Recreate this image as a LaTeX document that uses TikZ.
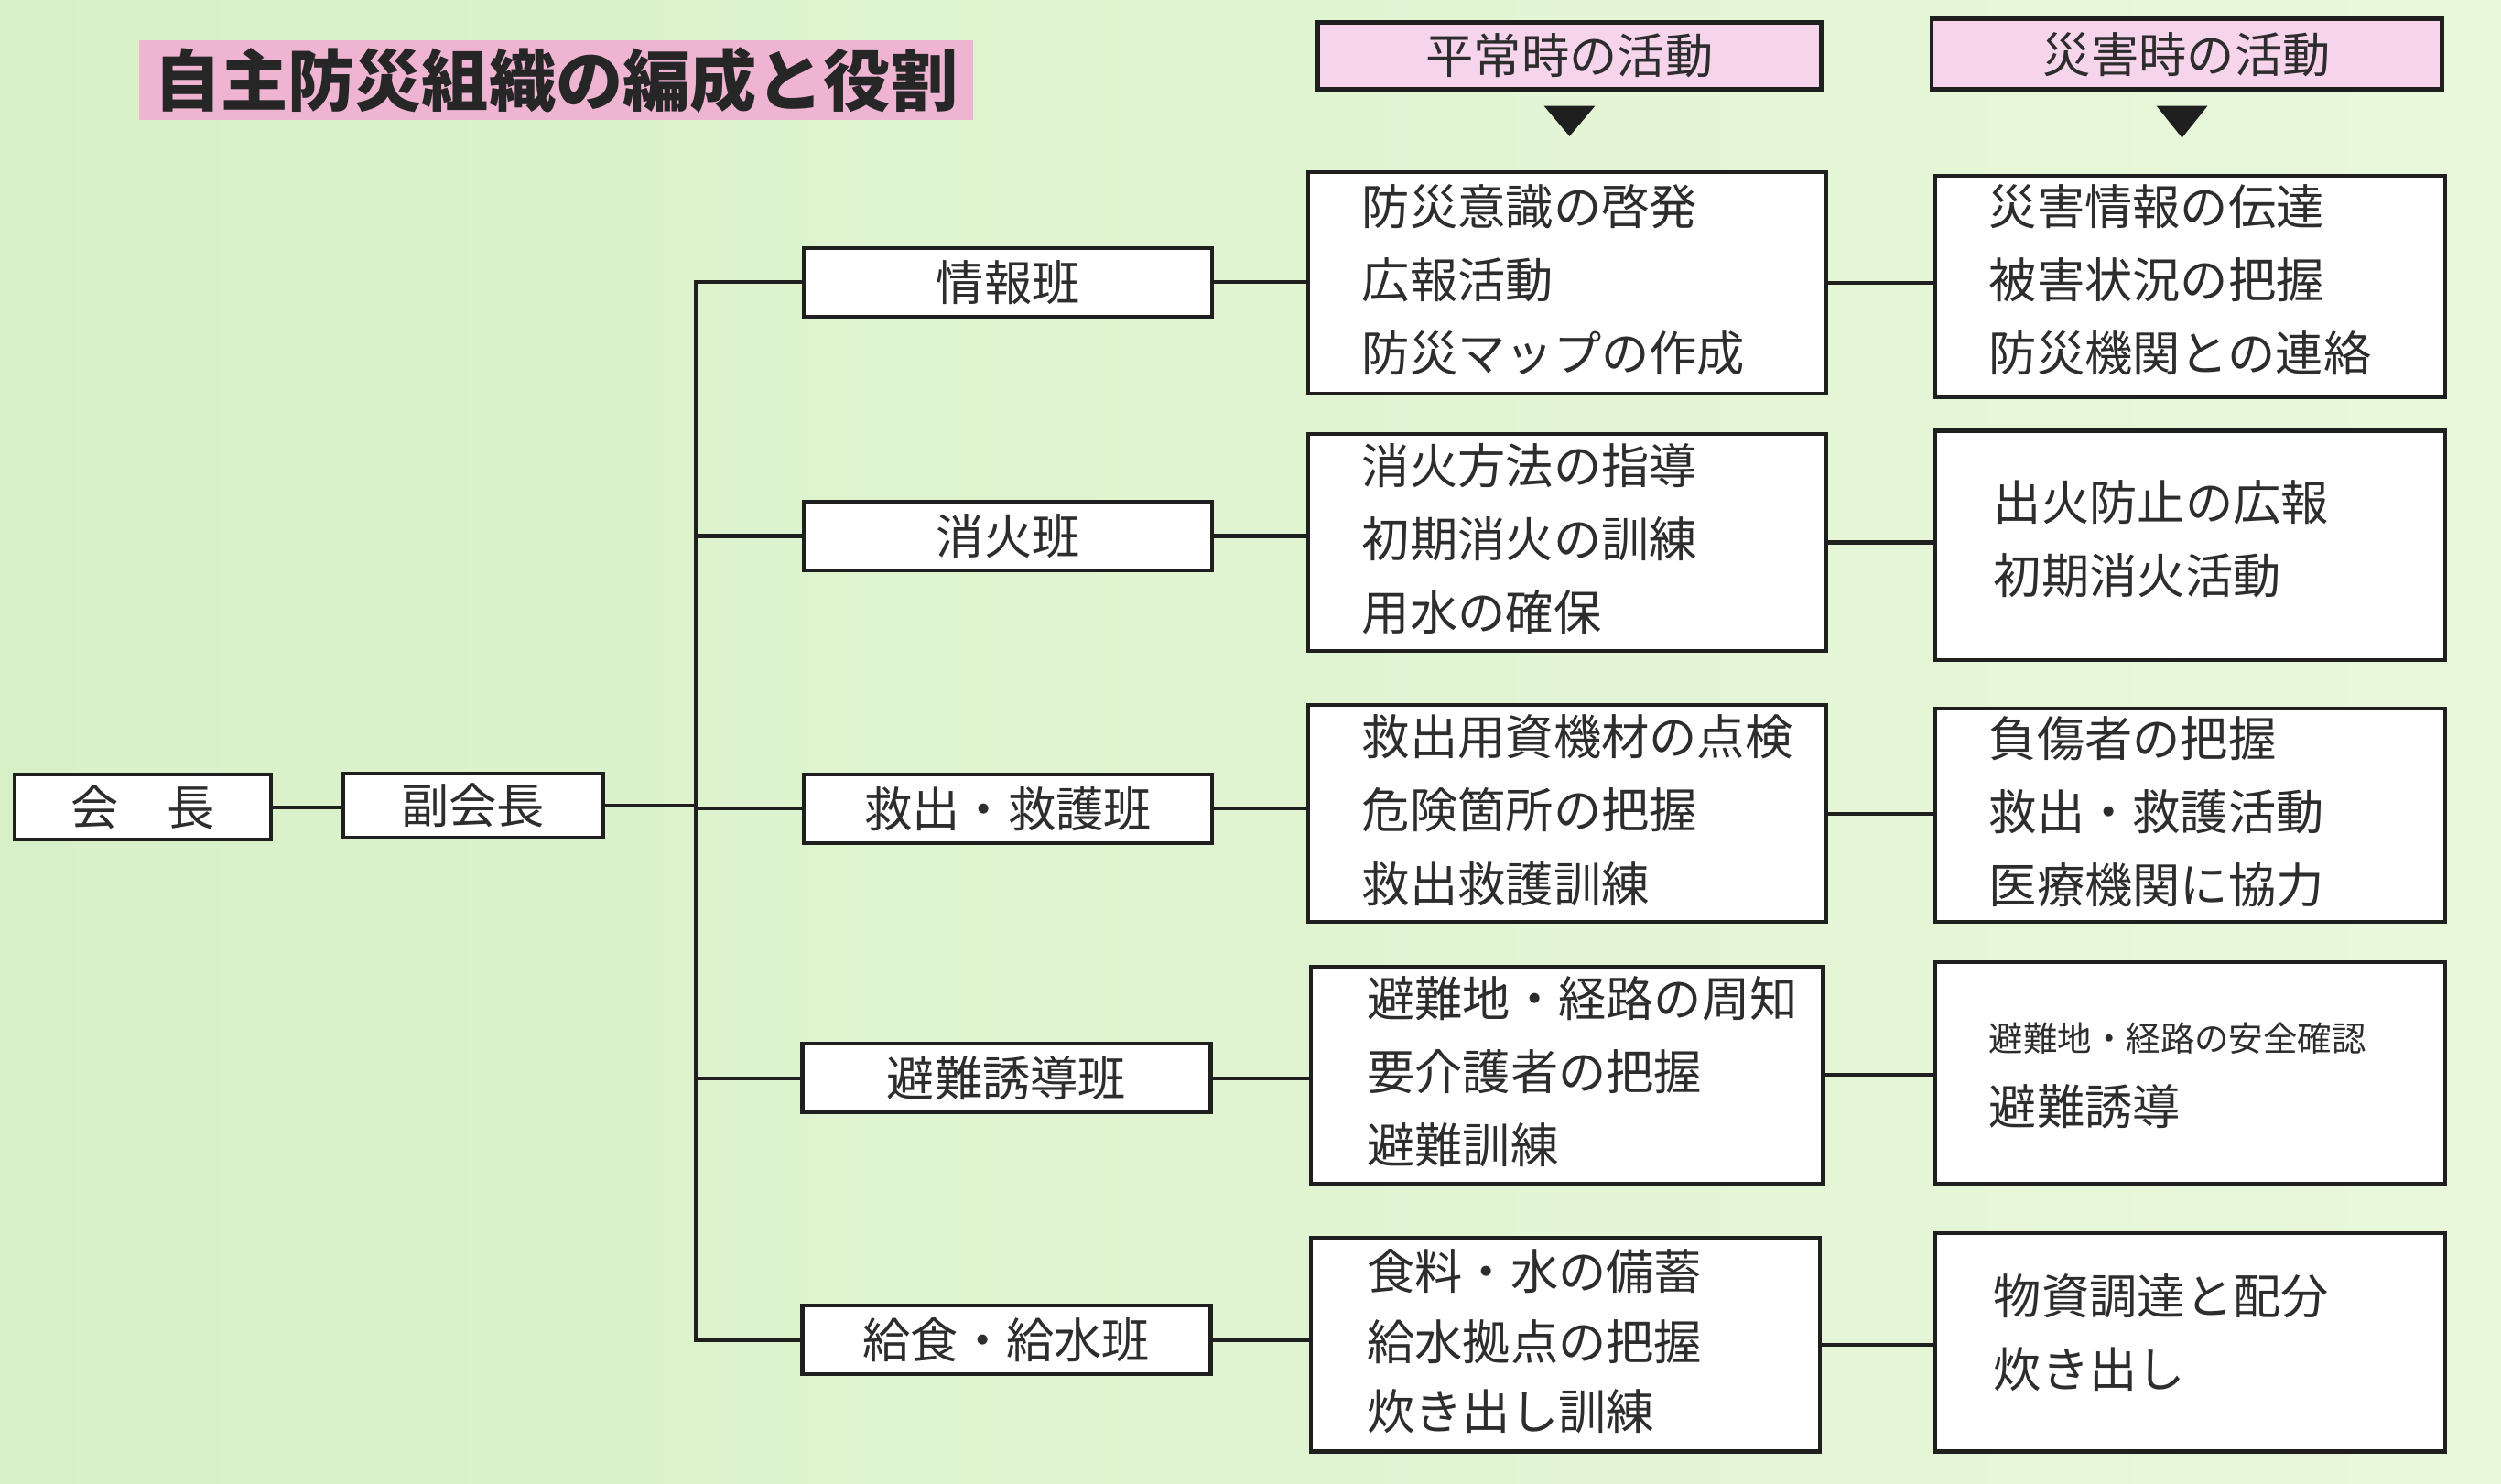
\documentclass[tikz,border=0pt]{standalone}
\usepackage{fontspec}
\setmainfont{Noto Sans CJK JP}
\usetikzlibrary{calc}
\definecolor{bgleft}{RGB}{216,240,200}
\definecolor{bgright}{RGB}{233,248,219}
\definecolor{titlepink}{RGB}{238,180,210}
\definecolor{hdrpink}{RGB}{246,212,236}
\definecolor{ink}{RGB}{45,45,45}
\begin{document}
\begin{tikzpicture}[x=1pt,y=-1pt,
  every node/.style={font=\fontsize{30}{46}\selectfont, text=ink},
  box/.style={draw=black!88, line width=2.4pt, fill=white, inner sep=0pt},
  hdr/.style={draw=black!88, line width=2.8pt, fill=hdrpink, inner sep=0pt},
  ban/.style={box, minimum width=256pt, minimum height=43pt},
  midbox/.style={box, minimum width=325pt},
  rbox/.style={box, minimum width=320pt},
  list/.style={anchor=west, align=left, inner sep=0pt},
  conn/.style={draw=black!88, line width=2.4pt},
  tri/.style={fill=black!88}]
\useasboundingbox (0,0) rectangle (1568,930);
\shade[left color=bgleft, right color=bgright] (0,0) rectangle (1568,930);

% title
\node[fill=titlepink, minimum width=523pt, minimum height=50pt, inner sep=0pt,
      font=\bfseries\fontsize{42}{50}\selectfont, text=black!85] (title) at (348.5,50) {自主防災組織の編成と役割};

% headers
\node[hdr, minimum width=316pt, minimum height=42pt] (h1) at (984,35) {平常時の活動};
\node[hdr, minimum width=320pt, minimum height=44pt] (h2) at (1371,34) {災害時の活動};
\fill[tri] ($(h1.south)+(-16,9)$) -- ++(32,0) -- ++(-16,19) -- cycle;
\fill[tri] ($(h2.south)+(-19,9)$) -- ++(32,0) -- ++(-16,20) -- cycle;

% leaders
\node[box, minimum width=161pt, minimum height=41pt] (kaicho) at (89.5,506) {会　長};
\node[box, minimum width=163pt, minimum height=40pt] (fuku) at (296.5,505) {副会長};

% groups
\node[ban] (ban1) at (632,177) {情報班};
\node[ban] (ban2) at (632,336) {消火班};
\node[ban] (ban3) at (632,507) {救出・救護班};
\node[ban] (ban4) at (631,676) {避難誘導班};
\node[ban] (ban5) at (631,840) {給食・給水班};

% normal-time boxes
\node[midbox, minimum height=139pt] (m1) at (982.5,177.5) {};
\node[midbox, minimum height=136pt] (m2) at (982.5,340) {};
\node[midbox, minimum height=136pt] (m3) at (982.5,510) {};
\node[midbox, minimum width=321pt, minimum height=136pt] (m4) at (982.5,674) {};
\node[midbox, minimum width=319pt, minimum height=134pt] (m5) at (981.5,843) {};
\node[list] (m1t) at ($(m1.west)+(35,-2)$) {防災意識の啓発\\広報活動\\防災マップの作成};
\node[list] (m2t) at ($(m2.west)+(35,-2)$) {消火方法の指導\\初期消火の訓練\\用水の確保};
\node[list] (m3t) at ($(m3.west)+(35,-2)$) {救出用資機材の点検\\危険箇所の把握\\救出救護訓練};
\node[list] (m4t) at ($(m4.west)+(36,-2)$) {避難地・経路の周知\\要介護者の把握\\避難訓練};
\node[list, font=\fontsize{30}{44}\selectfont] (m5t) at ($(m5.west)+(36,-2)$) {食料・水の備蓄\\給水拠点の把握\\炊き出し訓練};

% disaster-time boxes
\node[rbox, minimum height=139pt] (r1) at (1373,179.5) {};
\node[rbox, minimum height=144pt] (r2) at (1373,342) {};
\node[rbox, minimum height=134pt] (r3) at (1373,511) {};
\node[rbox, minimum height=139pt] (r4) at (1373,672.5) {};
\node[rbox, minimum height=137pt] (r5) at (1373,841.5) {};
\node[list] (r1t) at ($(r1.west)+(35,-4)$) {災害情報の伝達\\被害状況の把握\\防災機関との連絡};
\node[list] (r2t) at ($(r2.west)+(38,-4)$) {出火防止の広報\\初期消火活動};
\node[list] (r3t) at ($(r3.west)+(35,-2)$) {負傷者の把握\\救出・救護活動\\医療機関に協力};
\node[list] (r4t) at ($(r4.west)+(35,2)$) {{\fontsize{21.5}{46}\selectfont 避難地・経路の安全確認}\\避難誘導};
\node[list] (r5t) at ($(r5.west)+(38,-6)$) {物資調達と配分\\炊き出し};

% connectors
\coordinate (trunk) at (436,0);
\draw[conn] (kaicho.east) -- (kaicho.east -| fuku.west);
\draw[conn] (fuku.east) -- (fuku.east -| trunk);
\draw[conn] (ban1.west) -- (ban1.west -| trunk) -- (ban5.west -| trunk) -- (ban5.west);
\foreach \i in {2,3,4} {\draw[conn] (ban\i.west) -- (ban\i.west -| trunk);}
\foreach \i in {1,...,5} {
  \draw[conn] (ban\i.east) -- (ban\i.east -| m\i.west);
  \draw[conn] (m\i.east) -- (m\i.east -| r\i.west);
}
\end{tikzpicture}
\end{document}
